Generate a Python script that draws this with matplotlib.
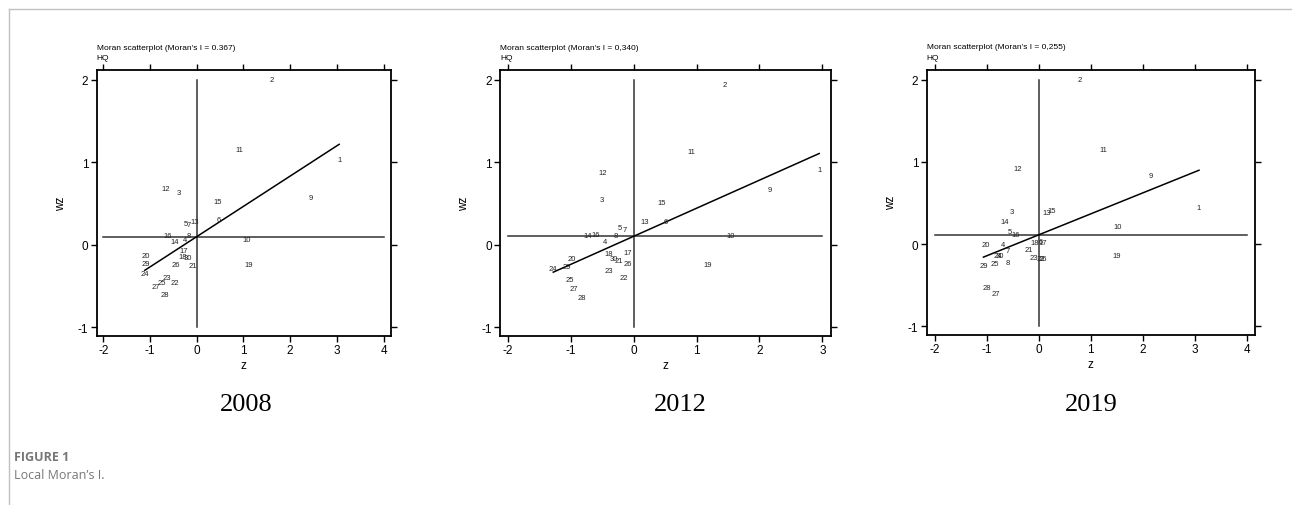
import matplotlib
matplotlib.use("Agg")
import matplotlib.pyplot as plt
from matplotlib.lines import Line2D
import numpy as np

plt.rcParams['font.family'] = ['Liberation Sans Narrow', 'Liberation Sans', 'DejaVu Sans']
plt.rcParams['axes.unicode_minus'] = False

# Data (z, Wz) per region id 1..30
ids = list(range(1, 31))
years = ["2008", "2012", "2019"]
morans_i = [0.367, 0.340, 0.255]
morans_txt = ["0.367", "0,340", "0,255"]
mean_wz = [0.10, 0.105, 0.113]

z_2008 = [3.05, 1.60, -0.39, -0.26, -0.23, 0.48, -0.17, -0.16, 2.45, 1.06,
          0.91, -0.66, -0.04, -0.47, 0.46, -0.63, -0.27, -0.30, 1.11, -1.09,
          -0.09, -0.47, -0.64, -1.11, -0.74, -0.44, -0.87, -0.68, -1.09, -0.18]
wz_2008 = [1.03, 2.00, 0.63, 0.06, 0.26, 0.31, 0.25, 0.11, 0.57, 0.07,
           1.16, 0.68, 0.29, 0.04, 0.53, 0.12, -0.07, -0.14, -0.24, -0.13,
           -0.25, -0.45, -0.40, -0.35, -0.46, -0.24, -0.50, -0.60, -0.23, -0.15]

z_2012 = [2.95, 1.44, -0.51, -0.46, -0.22, 0.51, -0.15, -0.29, 2.17, 1.54,
          0.92, -0.50, 0.17, -0.73, 0.44, -0.60, -0.10, -0.40, 1.18, -0.98,
          -0.24, -0.16, -0.40, -1.28, -1.02, -0.10, -0.96, -0.82, -1.07, -0.32]
wz_2012 = [0.91, 1.94, 0.55, 0.04, 0.21, 0.28, 0.19, 0.12, 0.67, 0.12,
           1.13, 0.88, 0.28, 0.12, 0.51, 0.13, -0.09, -0.10, -0.24, -0.17,
           -0.19, -0.40, -0.31, -0.28, -0.42, -0.23, -0.53, -0.64, -0.26, -0.16]

z_2019 = [3.08, 0.78, -0.51, -0.69, -0.55, 0.05, -0.60, -0.60, 2.15, 1.51,
          1.24, -0.40, 0.15, -0.65, 0.26, -0.44, 0.08, -0.08, 1.50, -1.01,
          -0.19, 0.05, -0.09, -0.78, -0.85, 0.09, -0.82, -1.00, -1.06, -0.75]
wz_2019 = [0.45, 2.00, 0.40, 0.00, 0.15, 0.03, -0.08, -0.22, 0.83, 0.21,
           1.15, 0.92, 0.39, 0.27, 0.41, 0.12, 0.02, 0.02, -0.14, 0.00,
           -0.07, -0.18, -0.16, -0.14, -0.23, -0.18, -0.60, -0.53, -0.26, -0.14]

zs = [z_2008, z_2012, z_2019]
wzs = [wz_2008, wz_2012, wz_2019]
xticks = [[-2, -1, 0, 1, 2, 3, 4], [-2, -1, 0, 1, 2, 3], [-2, -1, 0, 1, 2, 3, 4]]
xlims = [(-2.14, 4.16), (-2.127, 3.133), (-2.15, 4.15)]

W, H = 1292, 506
fig = plt.figure(figsize=(W / 100, H / 100), dpi=100)

# axes boxes in pixels: left, right, top, bottom
boxes = [(96.7, 391, 71, 336.7), (500, 830.7, 71, 336.7), (926.7, 1254.7, 70.7, 335.7)]
year_x = [246, 680, 1091]

for k in range(3):
    l, r, t, b = boxes[k]
    ax = fig.add_axes([l / W, 1 - b / H, (r - l) / W, (b - t) / H])
    z = np.array(zs[k])
    wz = np.array(wzs[k])

    ax.plot([0, 0], [-1, 2], color="#333333", lw=1.1)
    ax.plot([xticks[k][0], xticks[k][-1]], [mean_wz[k], mean_wz[k]], color="#333333", lw=1.1)
    xs = np.array([z.min(), z.max()])
    ax.plot(xs, mean_wz[k] + morans_i[k] * xs, color="black", lw=1.1)

    for i, zi, wi in zip(ids, z, wz):
        ax.text(zi, wi, str(i), fontsize=5.5, ha="center", va="center", color="#222222")

    ax.set_xlim(*xlims[k])
    ax.set_ylim(-1.10, 2.12)
    ax.set_xticks(xticks[k])
    ax.set_yticks([-1, 0, 1, 2])
    ax.tick_params(direction="out", length=4, width=1, labelsize=8.5, pad=2,
                   top=True, right=True, labeltop=False, labelright=False)
    for s in ax.spines.values():
        s.set_linewidth(1.3)
    ax.set_xlabel("z", fontsize=8.5, labelpad=2)
    ax.set_ylabel("wz", fontsize=8.5, labelpad=8)

    ax.text(0.0, 1 + (71 - 48) / (b - t), "Moran scatterplot (Moran's I = " + morans_txt[k] + ")",
            transform=ax.transAxes, fontsize=6, ha="left", va="center")
    ax.text(0.0, 1 + (71 - 58.5) / (b - t), "HQ",
            transform=ax.transAxes, fontsize=6, ha="left", va="center")

    fig.text(year_x[k] / W, 1 - 405 / H, years[k], fontsize=19, ha="center", va="center",
             family="Liberation Serif")

# figure frame and caption
fig.add_artist(Line2D([9 / W, 1], [1 - 9.5 / H, 1 - 9.5 / H], color="#c0c0c0", lw=1))
fig.add_artist(Line2D([9 / W, 9 / W], [1 - 9.5 / H, 0], color="#c0c0c0", lw=1))
fig.text(14 / W, 1 - 458 / H, "FIGURE 1", fontsize=9, fontweight="bold", color="#777777",
         ha="left", va="center", family=["Open Sans", "DejaVu Sans"])
fig.text(14 / W, 1 - 476 / H, "Local Moran\u2019s I.", fontsize=9, color="#777777",
         ha="left", va="center", family=["Open Sans", "DejaVu Sans"])

fig.savefig("out.png", dpi=100)
